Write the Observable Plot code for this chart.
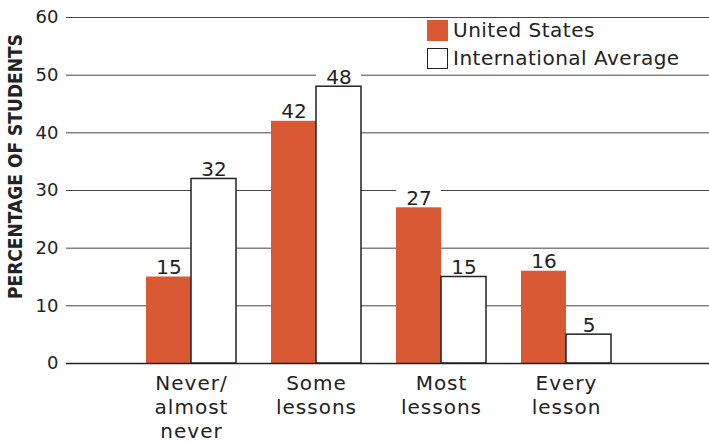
<!DOCTYPE html>
<html>
<head>
<meta charset="utf-8">
<script src="https://cdn.jsdelivr.net/npm/d3@7"></script>
<script src="https://cdn.jsdelivr.net/npm/@observablehq/plot@0.6"></script>
<style>
  html, body { margin: 0; padding: 0; background: #fff; }
  #chart { position: relative; width: 709px; height: 443px; font-family: "DejaVu Sans", sans-serif; color: #222; }
  #legend { position: absolute; left: 427px; top: 20px; font-size: 20px; letter-spacing: 0.5px; line-height: 21px; }
  #legend .item { display: flex; align-items: center; height: 21px; margin-bottom: 7px; }
  #legend .swatch { width: 21px; height: 21px; box-sizing: border-box; margin-right: 5px; }
  .cat-labels { letter-spacing: 1px; }
</style>
</head>
<body>
<div id="chart"></div>
<script>
// Categories (line breaks are drawn as separate lines under each group)
const categories = ["Never/\nalmost\nnever", "Some\nlessons", "Most\nlessons", "Every\nlesson"];
// Series names and values (percentage of students)
const seriesNames = ["United States", "International Average"];
const usValues = [15, 42, 27, 16];
const intlValues = [32, 48, 15, 5];
// Y-axis ticks
const yTicks = [0, 10, 20, 30, 40, 50, 60];
const yLabel = "PERCENTAGE OF STUDENTS";

const usColor = "#D85934";
const rows = categories.map((c, i) => ({category: c, us: usValues[i], intl: intlValues[i]}));

const half = 45; // half of the band: each series takes one half of a group

const chart = Plot.plot({
  width: 709,
  height: 443,
  marginTop: 17,
  marginBottom: 80,
  marginLeft: 66,
  marginRight: 0,
  style: {fontFamily: "DejaVu Sans, sans-serif", fontSize: "19px", color: "#222", background: "white"},
  x: {domain: categories, paddingInner: 0.284, paddingOuter: 0.7, align: 0.45, axis: null},
  y: {domain: [0, 60], ticks: yTicks, axis: null},
  marks: [
    // horizontal gridlines
    Plot.ruleY(yTicks.filter(d => d > 0), {stroke: "#444", strokeWidth: 1}),
    // white backing behind value labels
    Plot.barY(rows, {x: "category", y1: "us", y2: "us", insetTop: -20, insetRight: half, fill: "white"}),
    Plot.barY(rows, {x: "category", y1: "intl", y2: "intl", insetTop: -20, insetLeft: half, fill: "white"}),
    // bars
    Plot.barY(rows, {x: "category", y: "us", insetRight: half, fill: usColor}),
    Plot.barY(rows, {x: "category", y: "intl", insetLeft: half, fill: "white", stroke: "#222", strokeWidth: 1.5}),
    // baseline
    Plot.ruleY([0], {stroke: "#222", strokeWidth: 1.5}),
    // value labels
    Plot.text(rows, {x: "category", y: "us", text: d => String(d.us), dx: -half / 2, dy: -3, lineAnchor: "bottom", fontSize: 20, fill: "#222"}),
    Plot.text(rows, {x: "category", y: "intl", text: d => String(d.intl), dx: half / 2, dy: -3, lineAnchor: "bottom", fontSize: 20, fill: "#222"}),
    // y axis tick labels
    Plot.axisY(yTicks, {tickSize: 0, tickPadding: 8, fontSize: 18, label: null}),
    // y axis title
    Plot.text([yLabel], {text: d => d, frameAnchor: "left", rotate: -90, dx: -51, dy: -24, textAnchor: "middle",
      fontWeight: "bold", fontSize: 19, fontFamily: "DejaVu Sans Condensed, DejaVu Sans, sans-serif", fill: "#222"}),
    // category labels
    Plot.text(rows, {x: "category", text: "category", frameAnchor: "bottom", lineAnchor: "top", dy: 9, lineHeight: 1.2, fontSize: 20, fill: "#222"})
  ]
});

// widen the category labels slightly
const textGroups = chart.querySelectorAll('g[aria-label="text"]');
textGroups[textGroups.length - 1].classList.add("cat-labels");

const root = document.getElementById("chart");
root.appendChild(chart);

// legend
const legend = document.createElement("div");
legend.id = "legend";
legend.innerHTML = seriesNames.map((name, i) =>
  `<div class="item"><div class="swatch" style="${i === 0 ? `background:${usColor}` : "background:white;border:1.5px solid #222"}"></div><span>${name}</span></div>`
).join("");
root.appendChild(legend);
</script>
</body>
</html>
